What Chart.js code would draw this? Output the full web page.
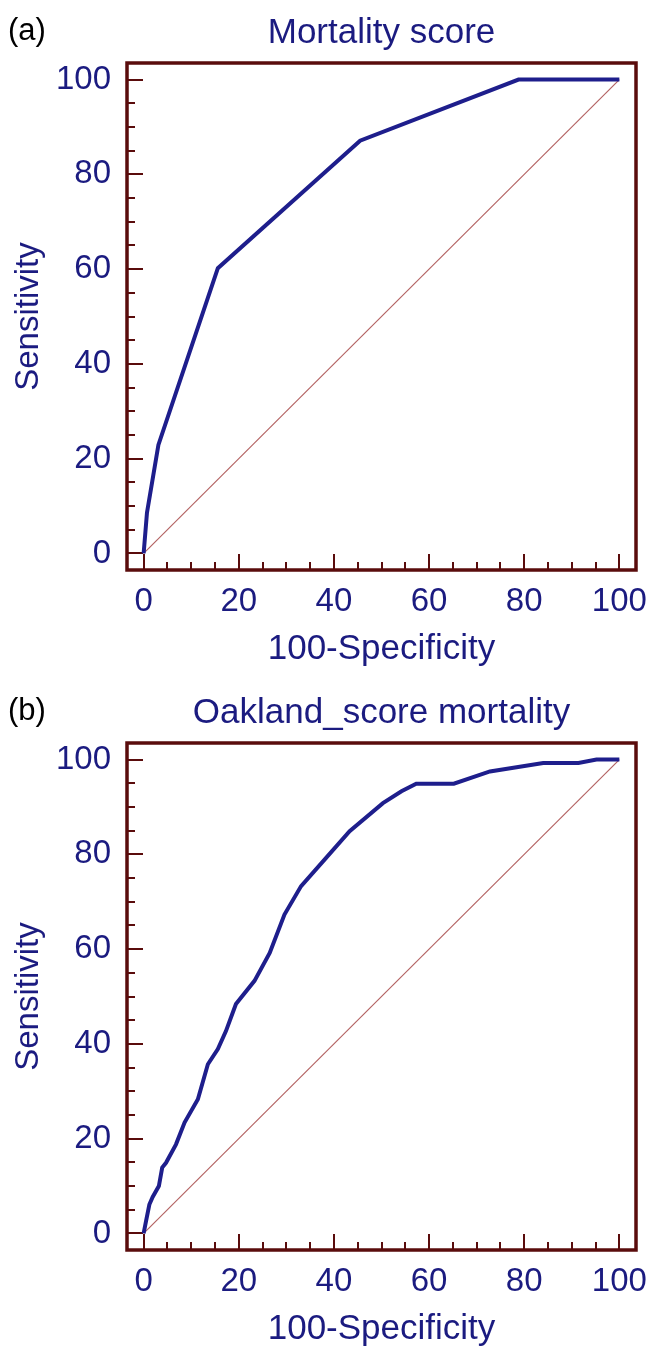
<!DOCTYPE html>
<html>
<head>
<meta charset="utf-8">
<script src="https://cdn.jsdelivr.net/npm/chart.js@4"></script>
<style>
  body { margin: 0; background: #fff; overflow: hidden; }
  canvas { display: block; }
</style>
</head>
<body>
<canvas id="chartA" width="650" height="680"></canvas>
<canvas id="chartB" width="650" height="680"></canvas>
<script>
// ROC curve for "Mortality score"
var mortX = [0, 0.7, 3.1, 15.6, 45.5, 78.8, 100];
var mortY = [0, 8.6, 22.9, 60.2, 87.1, 100, 100];

// ROC curve for "Oakland_score mortality"
var oakX = [0, 0.5, 1.2, 1.9, 3.2, 3.9, 4.7, 6.8, 8.6, 11.4, 13.5, 15.6, 17.3, 19.4, 23.3,
            26.5, 29.6, 33.1, 38.4, 43.3, 50.3, 54.2, 57.3, 65.2, 72.8, 84, 91.4, 95.2, 100];
var oakY = [0, 2.6, 6.1, 7.7, 10, 13.9, 14.9, 18.8, 23.4, 28.3, 35.7, 38.9, 42.7, 48.4, 53.3,
            59.2, 67.3, 73.3, 79.3, 84.9, 90.8, 93.3, 94.9, 94.9, 97.5, 99.3, 99.3, 100, 100];

// reference (chance) line
var refX = [0, 100];
var refY = [0, 100];

var tickVals = [0, 20, 40, 60, 80, 100];
var minorVals = [0, 5, 10, 15, 20, 25, 30, 35, 40, 45, 50, 55, 60, 65, 70, 75, 80, 85, 90, 95, 100];

var navy = '#1b1b80';
var frameColor = '#5a0c0c';
var fontFamily = "'Liberation Sans', Arial, sans-serif";

function toPoints(xs, ys) {
  var pts = [];
  for (var i = 0; i < xs.length; i++) {
    pts.push({ x: xs[i], y: ys[i] });
  }
  return pts;
}

// frame + inward tick marks, like the original software draws them
var framePlugin = {
  id: 'frame',
  beforeDatasetsDraw: function(chart, args, opts) {
    var ctx = chart.ctx;
    var a = chart.chartArea;
    var sx = chart.scales.x, sy = chart.scales.y;
    ctx.save();
    ctx.strokeStyle = frameColor;
    ctx.lineWidth = 2;
    for (var i = 0; i < minorVals.length; i++) {
      var v = minorVals[i];
      var len = (v % 20 === 0) ? 16 : 8;
      var px = Math.round(sx.getPixelForValue(v));
      ctx.beginPath();
      ctx.moveTo(px, a.bottom);
      ctx.lineTo(px, a.bottom - len);
      ctx.stroke();
      var py = Math.round(sy.getPixelForValue(v));
      ctx.beginPath();
      ctx.moveTo(a.left, py);
      ctx.lineTo(a.left + len, py);
      ctx.stroke();
    }
    ctx.lineWidth = 3.5;
    ctx.strokeRect(a.left, a.top, a.right - a.left, a.bottom - a.top);
    ctx.restore();
  },
  afterDraw: function(chart, args, opts) {
    var ctx = chart.ctx;
    ctx.save();
    ctx.fillStyle = '#000';
    ctx.font = '31px ' + fontFamily;
    ctx.textBaseline = 'middle';
    ctx.textAlign = 'left';
    ctx.fillText(opts.letter, 8, 31);
    ctx.restore();
  }
};

function makeChart(canvasId, titleText, letter, xs, ys) {
  var ctx = document.getElementById(canvasId).getContext('2d');
  return new Chart(ctx, {
    type: 'scatter',
    data: {
      datasets: [{
        data: toPoints(xs, ys),
        showLine: true,
        borderColor: '#1e1e8c',
        borderWidth: 4,
        pointRadius: 0,
        tension: 0,
        order: 0
      }, {
        data: toPoints(refX, refY),
        showLine: true,
        borderColor: 'rgb(180, 100, 100)',
        borderWidth: 1.2,
        pointRadius: 0,
        order: 1
      }]
    },
    options: {
      responsive: false,
      animation: false,
      devicePixelRatio: 1,
      layout: { padding: { left: 0, right: 14, top: 0, bottom: 0 } },
      plugins: {
        legend: { display: false },
        tooltip: { enabled: false },
        title: {
          display: true,
          text: titleText,
          fullSize: false,
          color: navy,
          font: { family: fontFamily, size: 35, weight: 'normal' },
          padding: { top: 12, bottom: 9 }
        },
        frame: { letter: letter }
      },
      scales: {
        x: {
          type: 'linear',
          min: -3.5,
          max: 103.5,
          grid: { display: false, drawTicks: false },
          border: { display: false },
          afterBuildTicks: function(s) {
            s.ticks = tickVals.map(function(v) { return { value: v }; });
          },
          afterFit: function(s) {
            s.height = 110;
            s.paddingLeft = 0;
            s.paddingRight = 0;
          },
          ticks: {
            color: navy,
            padding: 12,
            maxRotation: 0,
            font: { family: fontFamily, size: 33 }
          },
          title: {
            display: true,
            text: '100-Specificity',
            color: navy,
            font: { family: fontFamily, size: 35 },
            padding: { top: 0, bottom: 10 }
          }
        },
        y: {
          type: 'linear',
          min: -3.5,
          max: 103.5,
          grid: { display: false, drawTicks: false },
          border: { display: false },
          afterBuildTicks: function(s) {
            s.ticks = tickVals.map(function(v) { return { value: v }; });
          },
          afterFit: function(s) {
            s.width = 127;
            s.paddingTop = 0;
            s.paddingBottom = 0;
          },
          ticks: {
            color: navy,
            padding: 16,
            font: { family: fontFamily, size: 33 }
          },
          title: {
            display: true,
            text: 'Sensitivity',
            color: navy,
            font: { family: fontFamily, size: 33 },
            padding: { top: 9, bottom: 0 }
          }
        }
      }
    },
    plugins: [framePlugin]
  });
}

makeChart('chartA', 'Mortality score', '(a)', mortX, mortY);
makeChart('chartB', 'Oakland_score mortality', '(b)', oakX, oakY);
</script>
</body>
</html>
